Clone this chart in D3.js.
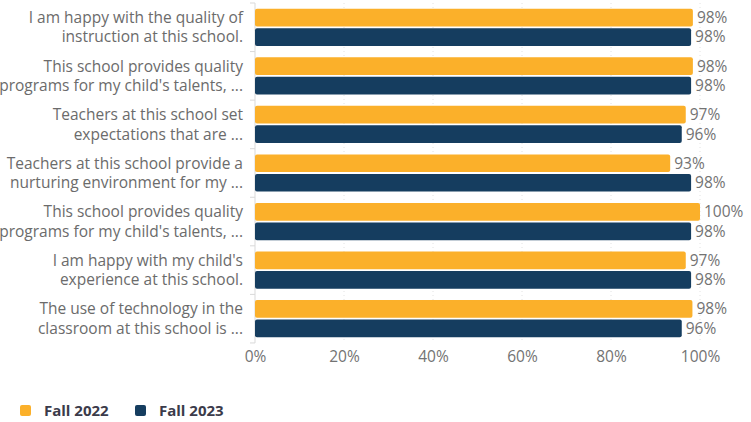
<!DOCTYPE html>
<html>
<head>
<meta charset="utf-8">
<title>survey bars</title>
<style>
  body { margin: 0; background: #fff; }
  svg text { font-family: "Open Sans", "Noto Sans", sans-serif; }
</style>
</head>
<body>
<div id="container"></div>
<script src="https://cdn.jsdelivr.net/npm/d3@7"></script>
<script>
// categories (two label lines each, as shown)
var questions = [
  ["I am happy with the quality of", "instruction at this school."],
  ["This school provides quality", "programs for my child's talents, ..."],
  ["Teachers at this school set", "expectations that are ..."],
  ["Teachers at this school provide a", "nurturing environment for my ..."],
  ["This school provides quality", "programs for my child's talents, ..."],
  ["I am happy with my child's", "experience at this school."],
  ["The use of technology in the", "classroom at this school is ..."]
];
var seriesNames = ["Fall 2022", "Fall 2023"];
var fall2022 = [98.4, 98.4, 96.8, 93.3, 100, 96.8, 98.3];
var fall2023 = [98.0, 98.0, 95.9, 98.0, 98.0, 98.0, 95.9];
var xTicks = [0, 20, 40, 60, 80, 100];

var colors = ["#FBB02A", "#153D5F"];
var width = 751, height = 422;
var margin = {left: 255, right: 51, top: 3, bottom: 79};
var fs = 15.5;

var svg = d3.select("#container").append("svg")
  .attr("width", width).attr("height", height);

var x = d3.scaleLinear().domain([0, 100]).range([margin.left, width - margin.right]);
var y = d3.scaleBand().domain(d3.range(questions.length))
  .range([margin.top, height - margin.bottom]).paddingInner(0.235).paddingOuter(0.118);
var y2 = d3.scaleBand().domain([0, 1]).range([0, y.bandwidth()]).paddingInner(0.09);

// grid
svg.append("g").selectAll("line").data(xTicks.slice(1)).enter().append("line")
  .attr("x1", d => x(d)).attr("x2", d => x(d))
  .attr("y1", margin.top).attr("y2", height - margin.bottom)
  .attr("stroke", "#e2e2e2").attr("stroke-dasharray", "1,3");

// left axis line with category separators
svg.append("line")
  .attr("x1", x(0)).attr("x2", x(0))
  .attr("y1", margin.top).attr("y2", height - margin.bottom)
  .attr("stroke", "#d9d9d9");
var step = y.step();
svg.append("g").selectAll("line").data(d3.range(questions.length + 1)).enter().append("line")
  .attr("x1", x(0) - 5).attr("x2", x(0))
  .attr("y1", d => margin.top + d * step).attr("y2", d => margin.top + d * step)
  .attr("stroke", "#d9d9d9");

var series = [fall2022, fall2023];
series.forEach(function(vals, s) {
  var g = svg.append("g");
  g.selectAll("rect").data(vals).enter().append("rect")
    .attr("x", x(0))
    .attr("y", (d, i) => y(i) + y2(s))
    .attr("width", d => x(d) - x(0))
    .attr("height", y2.bandwidth())
    .attr("rx", 2)
    .attr("fill", colors[s]);
  g.selectAll("text").data(vals).enter().append("text")
    .attr("x", d => x(d) + 4)
    .attr("y", (d, i) => y(i) + y2(s) + y2.bandwidth() / 2)
    .attr("dy", "0.35em")
    .attr("font-size", fs)
    .attr("fill", "#737373")
    .text(d => Math.round(d) + "%");
});

// category labels
var lab = svg.append("g").selectAll("text").data(questions).enter().append("text")
  .attr("text-anchor", "end")
  .attr("font-size", fs)
  .attr("fill", "#6b6b6b");
lab.each(function(d, i) {
  var t = d3.select(this);
  d.forEach(function(line, k) {
    t.append("tspan")
      .attr("x", x(0) - 12)
      .attr("y", y(i) + y2(k) + y2.bandwidth() / 2)
      .attr("dy", "0.35em")
      .text(line);
  });
});

// x axis
var xAxis = svg.append("g")
  .attr("transform", "translate(0," + (height - margin.bottom) + ")")
  .call(d3.axisBottom(x).tickValues(xTicks).tickFormat(d => d + "%").tickSize(0).tickPadding(8));
xAxis.select(".domain").remove();
xAxis.selectAll("text")
  .attr("font-size", fs)
  .attr("fill", "#737373")
  .attr("font-family", "'Open Sans', sans-serif");

// legend
var leg = svg.append("g").attr("transform", "translate(20,405)");
var lx = [0, 115];
seriesNames.forEach(function(n, i) {
  leg.append("rect").attr("x", lx[i]).attr("y", 0).attr("width", 11).attr("height", 11)
    .attr("rx", 2).attr("fill", colors[i]);
  leg.append("text").attr("x", lx[i] + 24).attr("y", 5.5).attr("dy", "0.35em")
    .attr("font-size", 15).attr("font-weight", "bold").attr("fill", "#3b3b4a")
    .text(n);
});
</script>
</body>
</html>
